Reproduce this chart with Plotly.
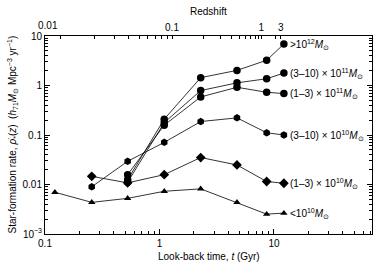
import numpy as np
import plotly.graph_objects as go

# Look-back time (Gyr) of the measurement bins
t_all = [0.122, 0.256, 0.527, 1.10, 2.29, 4.75, 8.63, 12.2]

# Star-formation rate per stellar-mass bin
sfr_gt12 = [0.0125, 0.209, 1.44, 2.02, 3.24, 6.87]
sfr_3_10e11 = [0.0111, 0.178, 0.79, 1.13, 1.37, 1.78]
sfr_1_3e11 = [0.0158, 0.158, 0.587, 0.92, 0.73, 0.687]
sfr_3_10e10 = [0.0090, 0.0294, 0.071, 0.187, 0.222, 0.111, 0.100]
sfr_1_3e10 = [0.0146, 0.0108, 0.0158, 0.0351, 0.0248, 0.0115, 0.0106]
sfr_lt10 = [0.00697, 0.00436, 0.00525, 0.0073, 0.00816, 0.00436, 0.00252, 0.00264]

labels = [
    "&gt;10<sup>12</sup><i>M</i><sub>⊙</sub>",
    "(3–10) × 10<sup>11</sup><i>M</i><sub>⊙</sub>",
    "(1–3) × 10<sup>11</sup><i>M</i><sub>⊙</sub>",
    "(3–10) × 10<sup>10</sup><i>M</i><sub>⊙</sub>",
    "(1–3) × 10<sup>10</sup><i>M</i><sub>⊙</sub>",
    "&lt;10<sup>10</sup><i>M</i><sub>⊙</sub>",
]

# Redshift ticks for the top axis
z_major = [0.1, 1, 3]
z_major_labels = ["0.1", "1", "3"]
z_minor = [0.01, 0.02, 0.03, 0.04, 0.05, 0.06, 0.07, 0.08, 0.09,
           0.2, 0.3, 0.4, 0.5, 0.6, 0.7, 0.8, 0.9, 2]


def lookback(z, H0=71.0, om=0.27, ol=0.73):
    zz = np.linspace(0, z, 2001)
    f = 1.0 / ((1 + zz) * np.sqrt(om * (1 + zz) ** 3 + ol))
    return 977.8 / H0 * np.trapezoid(f, zz)


series = [
    (t_all[2:], sfr_gt12, "circle", 7.5),
    (t_all[2:], sfr_3_10e11, "circle", 7.5),
    (t_all[2:], sfr_1_3e11, "circle", 7.5),
    (t_all[1:], sfr_3_10e10, "hexagon", 7.5),
    (t_all[1:], sfr_1_3e10, "diamond", 7.5),
    (t_all, sfr_lt10, "triangle-up", 6.5),
]

FONT = "Liberation Sans, Arial, Helvetica, sans-serif"
fig = go.Figure()
annotations = []
for (x, y, sym, sz), lab in zip(series, labels):
    fig.add_trace(go.Scatter(x=x, y=y, mode="lines+markers",
                             line=dict(color="black", width=0.8),
                             marker=dict(symbol=sym, size=sz, color="black"),
                             showlegend=False))
    annotations.append(dict(x=np.log10(x[-1]), y=np.log10(y[-1]), text=lab,
                            xref="x", yref="y", xanchor="left", yanchor="middle",
                            xshift=4, showarrow=False,
                            font=dict(size=10, color="black", family=FONT)))

# invisible trace to activate the top axis
fig.add_trace(go.Scatter(x=[0.2], y=[0.01], xaxis="x2", mode="markers",
                         marker=dict(opacity=0), showlegend=False, hoverinfo="skip"))

annotations += [
    dict(x=np.log10(0.106), y=1, xref="x", yref="paper", text="0.01",
         showarrow=False, yanchor="bottom", yshift=3,
         font=dict(size=10, color="black", family=FONT)),
    dict(x=0.5, y=1, xref="paper", yref="paper", text="Redshift",
         showarrow=False, yanchor="bottom", yshift=17,
         font=dict(size=10, color="black", family=FONT)),
    dict(x=0.5, y=0, xref="paper", yref="paper", text="Look-back time, <i>t</i> (Gyr)",
         showarrow=False, yanchor="top", yshift=-15,
         font=dict(size=10, color="black", family=FONT)),
    dict(x=0, y=0.5, xref="paper", yref="paper", xanchor="right",
         text="Star-formation rate, <i>ρ̇</i><sub>*</sub>(<i>z</i>)  "
              "(<i>h</i><sub>71</sub><i>M</i><sub>⊙</sub> Mpc<sup>−3</sup> yr<sup>−1</sup>)",
         textangle=-90, showarrow=False, xshift=-25,
         font=dict(size=10, color="black", family=FONT)),
]

minor_x = [v * d for d in (0.1, 1, 10) for v in range(2, 10)]
minor_y = [v * d for d in (0.001, 0.01, 0.1, 1) for v in range(2, 10)]

fig.update_layout(
    width=378, height=267,
    margin=dict(l=45, r=6, t=36, b=33, autoexpand=False),
    paper_bgcolor="white", plot_bgcolor="white",
    font=dict(family=FONT, size=10, color="black"),
    annotations=annotations,
    xaxis=dict(type="log", range=[-1, 1.856], automargin=False,
               tickvals=[0.1, 1, 10], ticktext=["0.1", "1", "10"],
               ticks="inside", ticklen=5, tickwidth=1, tickcolor="black",
               minor=dict(tickvals=minor_x, ticks="inside", ticklen=3,
                          tickcolor="black", showgrid=False),
               showline=True, linecolor="black", linewidth=1, mirror=False,
               showgrid=False, zeroline=False),
    xaxis2=dict(type="log", range=[-1, 1.856], overlaying="x", side="top",
                automargin=False,
                tickvals=[lookback(z) for z in z_major], ticktext=z_major_labels,
                ticks="inside", ticklen=3, tickcolor="black",
                minor=dict(tickvals=[lookback(z) for z in z_minor], ticks="inside",
                           ticklen=3, tickcolor="black", showgrid=False),
                showline=True, linecolor="black", linewidth=1,
                showgrid=False, zeroline=False, tickangle=0),
    yaxis=dict(type="log", range=[-3, 1], automargin=False,
               tickvals=[0.001, 0.01, 0.1, 1, 10],
               ticktext=["10<sup>−3</sup>", "0.01", "0.1", "1", "10"],
               ticks="inside", ticklen=5, tickcolor="black",
               minor=dict(tickvals=minor_y, ticks="inside", ticklen=3,
                          tickcolor="black", showgrid=False),
               showline=True, linecolor="black", linewidth=1, mirror="ticks",
               showgrid=False, zeroline=False),
)

fig.write_html("out.html", config={"displayModeBar": False},
               post_script="document.body.style.margin='0';"
                           "document.body.style.overflow='hidden';")
